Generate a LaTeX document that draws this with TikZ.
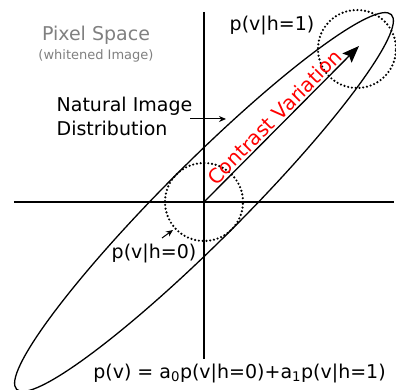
\documentclass[tikz,border=0pt]{standalone}
\usepackage{fontspec}
\setmainfont{DejaVu Sans}
\usetikzlibrary{arrows.meta}

\begin{document}
\begin{tikzpicture}[x=1pt, y=1pt, line width=1.3pt,
  dotcirc/.style={line width=2.4pt, dash pattern=on 0pt off 3.8pt, line cap=round},
  lbl/.style={font=\fontsize{19}{24}\selectfont, inner sep=0pt}]
  \useasboundingbox (-204,-188) rectangle (192,202);
  \coordinate (O) at (0,0);
  \coordinate (H1) at (153,153);
  \coordinate (T) at (155,156);
  % axes
  \draw (-190,0) -- (190,0);
  \draw (0,190) -- (0,-157);
  % distribution
  \draw[rotate=45] (O) ellipse (265 and 39);
  \draw[dotcirc] (O) circle (39);
  \draw[dotcirc] (H1) circle (39);
  \draw[-{Stealth[length=17pt, width=13pt, inset=3pt]}] (O) -- (T)
    node[midway, sloped, above, font=\fontsize{20}{24}\selectfont, inner sep=1.5pt, red] {Contrast Variation};
  % labels
  \node[lbl, gray] (pix) at (-108,167) {Pixel Space};
  \node[font=\fontsize{13}{15}\selectfont, gray, inner sep=0pt] (wht) at (-108,146) {(whitened Image)};
  \node[lbl, anchor=west, align=left] (nat) at (-148,86) {Natural Image\\Distribution};
  \coordinate (natA) at (-14,83);
  \coordinate (natB) at (22,83);
  \draw[line width=1pt, -{Stealth[length=7pt, width=6pt]}] (natA) -- (natB);
  \node[lbl] (ph1) at (68,177) {p(v|h=1)};
  \node[lbl] (ph0) at (-50,-51) {p(v|h=0)};
  \coordinate (h0A) at (-42,-36);
  \coordinate (h0B) at (-31,-28);
  \draw[line width=1pt, -{Stealth[length=7pt, width=6pt]}] (h0A) -- (h0B);
  \node[lbl] (pv) at (35.5,-171) {p(v) = a\textsubscript{0}p(v|h=0)+a\textsubscript{1}p(v|h=1)};
\end{tikzpicture}
\end{document}
